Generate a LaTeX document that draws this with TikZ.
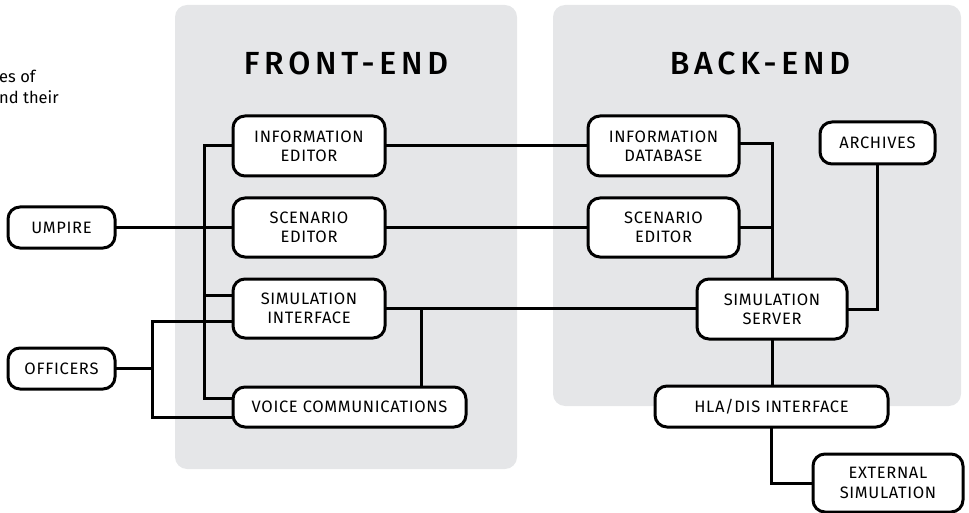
\documentclass[tikz,border=0pt]{standalone}
\usepackage{fontspec}
\setmainfont{Fira Sans}
\newfontfamily\boxfont[LetterSpace=4]{Fira Sans}
\newfontfamily\titlefont[LetterSpace=15]{Fira Sans Medium}
\usetikzlibrary{calc}
\definecolor{panelgray}{HTML}{E5E6E8}
\tikzset{
  x=1pt, y=-1pt,
  panel/.style={fill=panelgray, draw=none, rounded corners=12pt},
  title/.style={font=\titlefont\fontsize{32}{36}\selectfont, inner sep=0pt},
  unit/.style={draw=black, fill=white, line width=3pt, rounded corners=12pt,
    align=center, inner sep=0pt, font=\boxfont\fontsize{16.5}{19.3}\selectfont},
  link/.style={line width=3pt, line cap=rect},
  note/.style={font=\fontsize{16.5}{20}\selectfont, inner sep=0pt, anchor=base west}
}
\begin{document}
\begin{tikzpicture}
\useasboundingbox (0,0) rectangle (969,513);
\clip (0,0) rectangle (969,513);

% panels
\fill[panel] (175,5) rectangle (517,469);
\fill[panel] (553,5) rectangle (961,406);
\node[title] (fetitle) at (346,63.5) {FRONT-END};
\node[title] (betitle) at (760,63) {BACK-END};

% partially visible side note
\node[note] (note1) at (-1,83) {es of};
\node[note] (note2) at (-1,104) {nd their};

% front-end units
\node[unit, minimum width=152pt, minimum height=60pt] (infoed) at (309,146) {INFORMATION\\EDITOR};
\node[unit, minimum width=152pt, minimum height=59pt] (scened) at (309,227.5) {SCENARIO\\EDITOR};
\node[unit, minimum width=152pt, minimum height=59pt] (simif) at (309,308.5) {SIMULATION\\INTERFACE};
\node[unit, minimum width=233pt, minimum height=40pt] (voice) at (349.5,407) {VOICE COMMUNICATIONS};

% users
\node[unit, minimum width=107pt, minimum height=41pt] (umpire) at (61.5,227.5) {UMPIRE};
\node[unit, minimum width=107pt, minimum height=41pt] (officers) at (61.5,368.5) {OFFICERS};

% back-end units
\node[unit, minimum width=151pt, minimum height=60pt] (infodb) at (663.5,146) {INFORMATION\\DATABASE};
\node[unit, minimum width=151pt, minimum height=59pt] (scenbe) at (663.5,227.5) {SCENARIO\\EDITOR};
\node[unit, minimum width=115pt, minimum height=42pt] (archives) at (877.5,143) {ARCHIVES};
\node[unit, minimum width=150pt, minimum height=60pt] (simsrv) at (772,309) {SIMULATION\\SERVER};
\node[unit, minimum width=233pt, minimum height=41pt] (hla) at (771.5,406.5) {HLA/DIS INTERFACE};
\node[unit, minimum width=150pt, minimum height=58pt] (extsim) at (888,483) {EXTERNAL\\SIMULATION};

% helper points
\coordinate (busx) at (204,0);
\coordinate (ofj) at ([xshift=36pt]officers.east);
\coordinate (vhi) at ([yshift=9pt]voice.west);
\coordinate (vlo) at ([yshift=-10pt]voice.west);
\coordinate (sihi) at ([yshift=13.5pt]simif.west);
\coordinate (silo) at ([yshift=-12.5pt]simif.west);
\coordinate (sj) at ([xshift=35pt]simif.east);
\coordinate (dbout) at ([yshift=2pt]infodb.east);

% front-end bus
\draw[link] (infoed.west) -| (busx |- vhi) -- (vhi);
\draw[link] (sihi) -- (busx |- sihi);
% umpire
\draw[link] (umpire.east) -- (scened.west);
% officers
\draw[link] (officers.east) -- (ofj);
\draw[link] (silo) -| (ofj |- vlo) -- (vlo);
% simulation interface
\draw[link] (simif.east) -- (simsrv.west |- simif.east);
\draw[link] (sj) -- (sj |- voice.north);
% across to back-end
\draw[link] (infoed.east) -- (infodb.west);
\draw[link] (scened.east) -- (scenbe.west);
\draw[link] (dbout) -| (simsrv.north);
\draw[link] (scenbe.east) -- (simsrv.north |- scenbe.east);
\draw[link] (archives.south) |- (simsrv.east);
\draw[link] (simsrv.south) -- (simsrv.south |- hla.north);
\draw[link] (hla.south) |- (extsim.west);
\end{tikzpicture}
\end{document}
